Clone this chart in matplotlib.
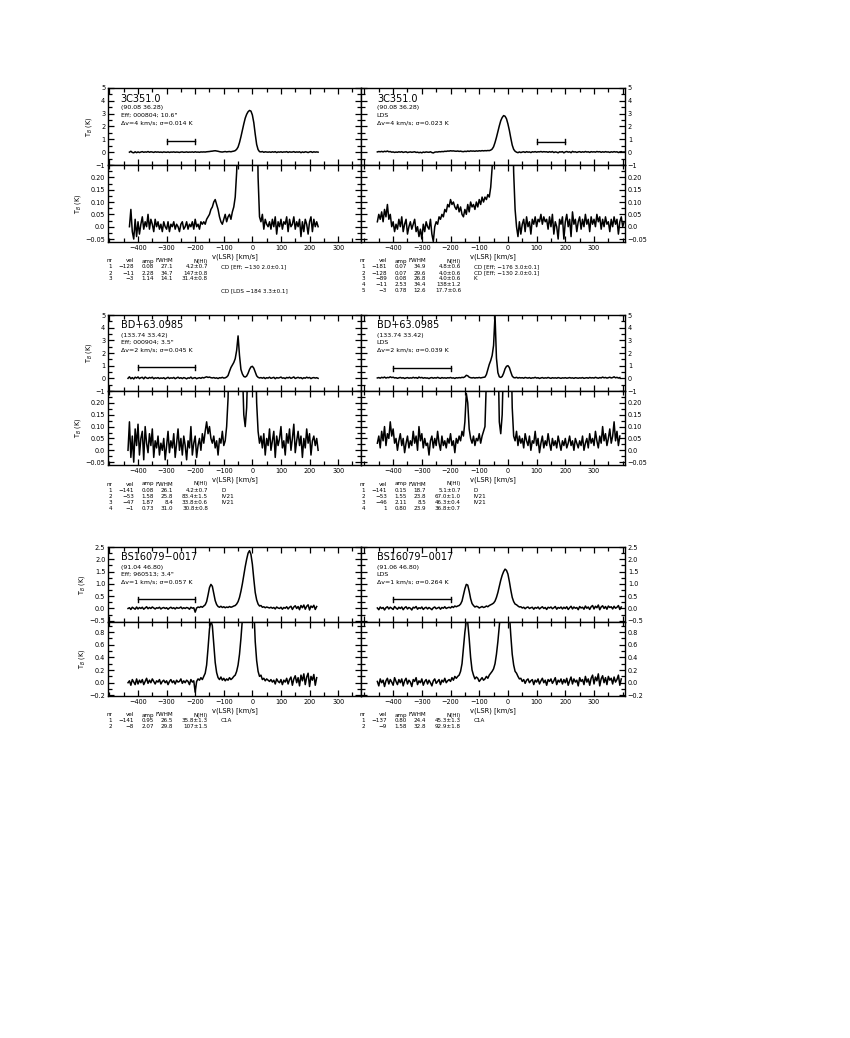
import numpy as np
import matplotlib
matplotlib.use('Agg')
import matplotlib.pyplot as plt
from matplotlib.ticker import MultipleLocator, FixedLocator, FixedFormatter

# ---------------- data ----------------
# spectra: first velocity (km/s), channel step, brightness temperatures (K)
start_a, step_a = -430, 5
spec_a = [
    0.00, 0.07, -0.02, -0.05, 0.03, -0.04, 0.02, -0.03, 0.01, 0.04,
    -0.01, 0.02, 0.00, 0.05, -0.01, 0.03, 0.01, -0.02, 0.03, 0.00,
    0.02, -0.01, 0.01, -0.02, 0.02, 0.00, -0.01, 0.02, -0.02, 0.01,
    0.00, 0.02, -0.01, 0.01, 0.00, -0.02, 0.01, 0.02, -0.01, 0.00,
    0.02, -0.01, 0.01, 0.00, 0.02, -0.01, 0.03, 0.00, 0.01, -0.01,
    0.02, 0.01, 0.02, 0.01, 0.03, 0.04, 0.05, 0.07, 0.08, 0.10,
    0.11, 0.09, 0.07, 0.04, 0.02, 0.01, 0.03, 0.05, 0.02, 0.04,
    0.05, 0.03, 0.06, 0.08, 0.12, 0.22, 0.40, 0.75, 1.20, 1.70,
    2.20, 2.65, 2.95, 3.15, 3.25, 3.20, 2.90, 2.30, 1.40, 0.60,
    0.20, 0.04, 0.02, 0.05, -0.01, 0.03, 0.01, 0.00, 0.02, -0.01,
    0.03, 0.00, 0.04, -0.03, 0.02, 0.00, 0.03, -0.01, 0.02, 0.01,
    0.04, -0.02, 0.03, 0.00, 0.01, 0.04, -0.01, 0.02, 0.00, 0.03,
    -0.04, 0.02, -0.02, 0.03, 0.01, -0.03, 0.02, 0.04, -0.02, 0.03,
    0.00, 0.02, 0.00,
]

start_b, step_b = -455, 5
spec_b = [
    0.02, 0.05, 0.03, 0.06, 0.02, 0.07, 0.04, 0.09, 0.03, 0.05,
    0.00, 0.02, -0.02, 0.01, -0.01, 0.03, 0.00, 0.04, -0.02, 0.01,
    0.03, -0.03, 0.00, 0.02, -0.01, 0.01, 0.03, -0.02, 0.00, -0.04,
    -0.01, -0.05, 0.01, -0.02, 0.02, 0.00, -0.01, 0.03, -0.03, -0.06,
    0.00, 0.02, 0.01, 0.04, 0.03, 0.05, 0.04, 0.07, 0.06, 0.09,
    0.08, 0.11, 0.09, 0.10, 0.08, 0.07, 0.09, 0.06, 0.08, 0.05,
    0.04, 0.07, 0.05, 0.09, 0.06, 0.10, 0.08, 0.09, 0.07, 0.10,
    0.08, 0.11, 0.09, 0.12, 0.10, 0.12, 0.11, 0.13, 0.12, 0.16,
    0.24, 0.42, 0.75, 1.15, 1.60, 2.05, 2.45, 2.70, 2.85, 2.80,
    2.60, 2.20, 1.70, 1.10, 0.55, 0.22, 0.07, 0.00, -0.04, 0.02,
    -0.03, 0.01, 0.03, -0.02, 0.04, 0.00, 0.02, -0.03, 0.03, 0.01,
    0.04, 0.00, 0.03, 0.02, 0.05, 0.01, 0.04, 0.02, 0.03, -0.01,
    0.04, 0.00, 0.05, -0.03, 0.02, 0.00, -0.05, 0.03, 0.01, 0.04,
    -0.05, 0.02, 0.05, 0.00, 0.03, -0.04, 0.06, 0.01, 0.03, -0.02,
    0.02, 0.04, -0.01, 0.03, 0.00, 0.05, 0.01, 0.03, -0.02, 0.04,
    0.01, 0.03, 0.00, 0.05, 0.02, 0.04, -0.01, 0.03, 0.00, 0.04,
    0.01, 0.02, -0.02, 0.03, 0.00, 0.04, 0.01, 0.03, -0.03, 0.02,
    0.04, 0.00, 0.02,
]

start_c, step_c = -435, 5
spec_c = [
    0.00, 0.12, -0.03, 0.06, -0.05, 0.09, 0.02, 0.11, -0.02, 0.05,
    0.08, -0.04, 0.10, 0.03, -0.01, 0.07, 0.02, 0.09, -0.03, 0.04,
    0.01, 0.06, -0.02, 0.03, 0.00, 0.05, -0.04, 0.02, 0.08, -0.01,
    0.04, 0.01, 0.07, -0.03, 0.03, 0.09, 0.00, 0.05, -0.02, 0.06,
    0.02, -0.04, 0.04, 0.01, 0.10, -0.02, 0.03, 0.06, -0.03, 0.02,
    0.05, 0.00, 0.07, 0.03, 0.08, 0.12, 0.07, 0.10, 0.05, 0.03,
    0.06, 0.01, 0.04, -0.02, 0.05, 0.03, 0.08, 0.02, 0.04, 0.10,
    0.22, 0.55, 0.85, 1.05, 1.25, 1.55, 2.20, 3.35, 1.80, 0.70,
    0.35, 0.15, 0.10, 0.18, 0.40, 0.70, 0.90, 0.95, 0.80, 0.50,
    0.20, 0.08, 0.03, 0.06, 0.01, 0.07, -0.02, 0.05, 0.02, 0.09,
    0.00, 0.04, 0.08, -0.03, 0.06, 0.02, 0.05, 0.10, 0.01, 0.04,
    -0.02, 0.07, 0.03, 0.09, 0.00, 0.05, 0.11, -0.01, 0.04, 0.08,
    0.02, 0.06, -0.03, 0.05, 0.01, 0.09, 0.03, 0.07, -0.02, 0.04,
    0.06, 0.02, 0.05, 0.00,
]

start_d, step_d = -455, 5
spec_d = [
    0.03, 0.06, 0.01, 0.08, 0.04, 0.10, 0.02, 0.07, 0.05, 0.12,
    0.06, 0.09, 0.03, 0.05, 0.00, 0.04, 0.07, 0.02, 0.05, -0.01,
    0.03, 0.06, 0.01, 0.04, 0.02, 0.08, 0.03, 0.06, 0.00, 0.10,
    0.04, 0.07, 0.01, 0.05, 0.02, 0.03, -0.02, 0.04, 0.06, 0.01,
    0.05, 0.02, 0.08, 0.03, 0.00, 0.06, 0.02, 0.04, 0.01, 0.05,
    0.03, 0.07, 0.02, 0.04, -0.01, 0.05, 0.03, 0.06, 0.04, 0.08,
    0.06, 0.12, 0.24, 0.20, 0.09, 0.05, 0.03, 0.06, 0.02, 0.05,
    0.04, 0.07, 0.03, 0.06, 0.08, 0.10, 0.30, 0.70, 1.10, 1.40,
    1.80, 2.60, 5.00, 1.60, 0.45, 0.12, 0.07, 0.15, 0.40, 0.75,
    0.95, 1.00, 0.85, 0.50, 0.18, 0.06, 0.04, 0.08, 0.02, 0.06,
    0.03, 0.05, 0.01, 0.07, 0.04, 0.02, 0.06, 0.00, 0.04, 0.03,
    0.08, 0.02, 0.05, -0.01, 0.03, 0.06, 0.01, 0.04, 0.02, 0.07,
    0.03, 0.00, 0.05, 0.02, 0.04, 0.01, 0.06, 0.03, 0.00, 0.04,
    0.02, 0.05, 0.01, 0.03, 0.06, 0.02, 0.04, 0.00, 0.05, 0.03,
    0.01, 0.04, 0.02, 0.06, 0.00, 0.03, 0.05, 0.01, 0.07, 0.03,
    0.05, 0.02, 0.08, 0.04, 0.01, 0.06, 0.03, 0.10, 0.04, 0.07,
    0.02, 0.05, 0.09, 0.03, 0.06, 0.12, 0.04, 0.08, 0.02, 0.06,
]

start_e, step_e = -435, 5
spec_e = [
    0.00, 0.03, -0.04, 0.05, 0.01, -0.03, 0.06, -0.02, 0.04, 0.00,
    0.05, -0.03, 0.02, 0.07, -0.01, 0.04, 0.00, 0.06, 0.02, -0.02,
    0.03, 0.01, 0.05, -0.02, 0.02, 0.04, 0.00, 0.03, -0.03, 0.02,
    0.05, 0.00, 0.03, -0.02, 0.04, 0.01, 0.02, 0.06, -0.01, 0.03,
    0.00, 0.04, 0.02, -0.03, 0.05, 0.01, 0.03, -0.15, 0.02, 0.06,
    0.04, 0.08, 0.05, 0.10, 0.15, 0.28, 0.55, 0.85, 0.98, 0.90,
    0.60, 0.32, 0.16, 0.08, 0.05, 0.09, 0.04, 0.07, 0.03, 0.06,
    0.04, 0.08, 0.05, 0.07, 0.10, 0.12, 0.18, 0.28, 0.45, 0.70,
    1.00, 1.35, 1.70, 2.00, 2.25, 2.35, 2.20, 1.80, 1.20, 0.65,
    0.35, 0.18, 0.10, 0.12, 0.05, 0.07, 0.03, 0.06, 0.04, 0.02,
    0.05, 0.01, 0.04, -0.02, 0.06, 0.02, 0.00, 0.05, -0.03, 0.04,
    0.01, 0.07, -0.02, 0.05, 0.09, -0.04, 0.06, 0.11, 0.00, 0.08,
    -0.05, 0.12, 0.03, 0.14, -0.03, 0.09, 0.15, -0.06, 0.10, 0.04,
    0.13, -0.04, 0.08,
]

start_f, step_f = -455, 5
spec_f = [
    0.02, -0.05, 0.06, 0.00, 0.04, -0.06, 0.03, 0.07, -0.02, 0.05,
    0.01, -0.04, 0.08, 0.02, -0.03, 0.05, 0.00, 0.06, -0.05, 0.03,
    0.07, -0.02, 0.04, 0.01, -0.06, 0.05, 0.02, 0.08, -0.03, 0.03,
    0.00, 0.06, -0.04, 0.02, 0.05, -0.02, 0.04, 0.00, -0.05, 0.03,
    0.06, -0.01, 0.02, 0.05, -0.03, 0.04, 0.01, 0.07, 0.00, 0.03,
    0.05, 0.02, 0.08, 0.04, 0.10, 0.07, 0.10, 0.12, 0.18, 0.30,
    0.55, 0.80, 0.98, 0.95, 0.70, 0.40, 0.20, 0.12, 0.06, 0.09,
    0.07, 0.02, 0.05, 0.08, 0.04, 0.06, 0.10, 0.07, 0.12, 0.15,
    0.18, 0.22, 0.30, 0.45, 0.65, 0.90, 1.15, 1.35, 1.50, 1.60,
    1.55, 1.40, 1.10, 0.75, 0.45, 0.28, 0.18, 0.15, 0.10, 0.06,
    0.07, 0.02, 0.05, -0.01, 0.04, 0.06, 0.00, 0.03, 0.05, -0.03,
    0.04, 0.01, 0.06, -0.02, 0.03, 0.07, 0.00, 0.04, -0.04, 0.05,
    0.02, 0.06, -0.01, 0.03, 0.08, -0.03, 0.04, 0.01, 0.06, -0.02,
    0.05, 0.00, 0.07, -0.04, 0.03, 0.09, -0.02, 0.06, 0.01, 0.04,
    -0.05, 0.08, 0.02, 0.05, -0.03, 0.10, 0.01, 0.06, -0.04, 0.07,
    0.12, -0.02, 0.09, 0.03, 0.14, -0.05, 0.06, 0.11, 0.00, 0.08,
    -0.03, 0.10, 0.04, 0.07, -0.02, 0.09, 0.01, 0.05, 0.12, -0.04,
    0.06,
]

# header text of each panel
info_a = ["3C351.0", "(90.08 36.28)", "Eff; 000804; 10.6\"", "Δv=4 km/s; σ=0.014 K"]
info_b = ["3C351.0", "(90.08 36.28)", "LDS", "Δv=4 km/s; σ=0.023 K"]
info_c = ["BD+63.0985", "(133.74 33.42)", "Eff; 000904; 3.5\"", "Δv=2 km/s; σ=0.045 K"]
info_d = ["BD+63.0985", "(133.74 33.42)", "LDS", "Δv=2 km/s; σ=0.039 K"]
info_e = ["BS16079−0017", "(91.04 46.80)", "Eff; 960513; 3.4\"", "Δv=1 km/s; σ=0.057 K"]
info_f = ["BS16079−0017", "(91.06 46.80)", "LDS", "Δv=1 km/s; σ=0.264 K"]

# velocity range bars (v1, v2, T)
bar_a = (-300, -200, 0.85)
bar_b = (100, 200, 0.8)
bar_c = (-400, -200, 0.87)
bar_d = (-400, -200, 0.8)
bar_e = (-400, -200, 0.37)
bar_f = (-400, -200, 0.37)

# gaussian component tables
table_head = ["nr", "vel", "amp", "FWHM", "N(HI)"]
comp_a = [("1", "−128", "0.08", "27.1", "4.2±0.7", "CD [Eff; −130 2.0±0.1]"),
          ("2", "−11", "2.28", "34.7", "147±0.8", ""),
          ("3", "−3", "1.14", "14.1", "31.4±0.8", ""),
          ("", "", "", "", "", ""),
          ("", "", "", "", "", "CD [LDS −184 3.3±0.1]")]
comp_b = [("1", "−181", "0.07", "34.9", "4.8±0.6", "CD [Eff; −176 3.0±0.1]"),
          ("2", "−128", "0.07", "29.6", "4.0±0.6", "CD [Eff; −130 2.0±0.1]"),
          ("3", "−89", "0.08", "26.8", "4.0±0.6", "K"),
          ("4", "−11", "2.53", "34.4", "138±1.2", ""),
          ("5", "−3", "0.78", "12.6", "17.7±0.6", "")]
comp_c = [("1", "−141", "0.08", "26.1", "4.2±0.7", "D"),
          ("2", "−53", "1.58", "25.8", "83.4±1.5", "IV21"),
          ("3", "−47", "1.87", "8.4", "33.8±0.6", "IV21"),
          ("4", "−1", "0.73", "31.0", "30.8±0.8", "")]
comp_d = [("1", "−141", "0.15", "18.7", "5.1±0.7", "D"),
          ("2", "−53", "1.55", "23.8", "67.0±1.0", "IV21"),
          ("3", "−46", "2.11", "8.5", "46.3±0.4", "IV21"),
          ("4", "1", "0.80", "23.9", "36.8±0.7", "")]
comp_e = [("1", "−141", "0.95", "26.5", "35.8±1.3", "C1A"),
          ("2", "−8", "2.07", "29.8", "107±1.5", "")]
comp_f = [("1", "−137", "0.80", "24.4", "45.3±1.3", "C1A"),
          ("2", "−9", "1.58", "32.8", "92.9±1.8", "")]

# ---------------- layout (pixels of the 850x1038 page) ----------------
W, H = 850, 1038
rows_px = [(88, 165, 242), (315, 391, 465), (547, 622, 696)]
cols_px = [(108, 361), (361, 625)]
xlims = [(-505, 380), (-512, 408)]

plt.rcParams['font.family'] = ['DejaVu Sans']
fig = plt.figure(figsize=(8.5, 10.38), dpi=100)
fig.patch.set_facecolor('white')


def rect(x0, y0, x1, y1):
    return [x0 / W, 1 - y1 / H, (x1 - x0) / W, (y1 - y0) / H]


def style_axis(ax, right):
    for s in ax.spines.values():
        s.set_linewidth(1.0)
    ax.tick_params(which='both', direction='in', top=True, bottom=True,
                   left=True, right=True, width=0.9, labelsize=4.7, pad=2)
    ax.tick_params(which='major', length=4)
    ax.tick_params(which='minor', length=3)
    if right:
        ax.tick_params(labelleft=False, labelright=True)


def set_yticks(ax, vals, labels, minor):
    ax.yaxis.set_major_locator(FixedLocator(vals))
    ax.yaxis.set_major_formatter(FixedFormatter(labels))
    ax.yaxis.set_minor_locator(MultipleLocator(minor))


def draw_panel(row, col, start, step, spec, info, bar, comps):
    top, mid, bot = rows_px[row]
    x0, x1 = cols_px[col]
    right = col == 1
    v = start + step * np.arange(len(spec))
    T = np.array(spec)

    ax_up = fig.add_axes(rect(x0, top, x1, mid))
    ax_lo = fig.add_axes(rect(x0, mid, x1, bot))

    for ax in (ax_up, ax_lo):
        ax.plot(v, T, color='black', lw=1.1)
        ax.set_xlim(*xlims[col])
        ax.xaxis.set_major_locator(MultipleLocator(100))
        ax.xaxis.set_minor_locator(MultipleLocator(50))
        style_axis(ax, right)
    ax_up.tick_params(labelbottom=False)

    if row < 2:
        ax_up.set_ylim(-1, 5)
        set_yticks(ax_up, [-1, 0, 1, 2, 3, 4, 5],
                   ['−1', '0', '1', '2', '3', '4', '5'], 0.5)
        ax_lo.set_ylim(-0.062, 0.25)
        set_yticks(ax_lo, [-0.05, 0, 0.05, 0.10, 0.15, 0.20],
                   ['−0.05', '0.0', '0.05', '0.10', '0.15', '0.20'], 0.025)
        hcap = 0.2
    else:
        ax_up.set_ylim(-0.55, 2.5)
        set_yticks(ax_up, [-0.5, 0, 0.5, 1, 1.5, 2, 2.5],
                   ['−0.5', '0.0', '0.5', '1.0', '1.5', '2.0', '2.5'], 0.25)
        ax_lo.set_ylim(-0.21, 0.96)
        set_yticks(ax_lo, [-0.2, 0, 0.2, 0.4, 0.6, 0.8],
                   ['−0.2', '0.0', '0.2', '0.4', '0.6', '0.8'], 0.1)
        hcap = 0.1

    xt = [-400, -300, -200, -100, 0, 100, 200, 300]
    ax_lo.xaxis.set_major_locator(FixedLocator(xt))
    ax_lo.xaxis.set_major_formatter(FixedFormatter(
        [str(t).replace('-', '−') for t in xt]))
    ax_lo.set_xlabel('v(LSR) [km/s]', fontsize=4.9, labelpad=1.5)

    if not right:
        ax_up.set_ylabel('T$_B$ (K)', fontsize=4.7, labelpad=1.5)
        ax_lo.set_ylabel('T$_B$ (K)', fontsize=4.7, labelpad=1.5)

    # velocity range bar
    b1, b2, by = bar
    ax_up.plot([b1, b2], [by, by], color='black', lw=1.0)
    ax_up.plot([b1, b1], [by - hcap, by + hcap], color='black', lw=1.0)
    ax_up.plot([b2, b2], [by - hcap, by + hcap], color='black', lw=1.0)

    # header text
    hpx = mid - top
    xoff = 0.05 if not right else 0.06
    ax_up.text(xoff, 1 - 10.5 / hpx, info[0], transform=ax_up.transAxes,
               fontsize=7, va='center', ha='left')
    for k, dy in enumerate([20, 27.5, 35]):
        ax_up.text(xoff, 1 - dy / hpx, info[k + 1], transform=ax_up.transAxes,
                   fontsize=4.5, va='center', ha='left')

    # component table under the panel
    ty = bot + 19
    cx = [x0 + 4, x0 + 26, x0 + 46, x0 + 65, x0 + 100]
    for j, h in enumerate(table_head):
        fig.text(cx[j] / W, 1 - ty / H, h, fontsize=4.1, ha='right', va='center')
    for i, c in enumerate(comps):
        yy = ty + 6 * (i + 1)
        for j in range(5):
            fig.text(cx[j] / W, 1 - yy / H, c[j], fontsize=4.1, ha='right', va='center')
        fig.text((x0 + 113) / W, 1 - yy / H, c[5], fontsize=4.1, ha='left', va='center')


draw_panel(0, 0, start_a, step_a, spec_a, info_a, bar_a, comp_a)
draw_panel(0, 1, start_b, step_b, spec_b, info_b, bar_b, comp_b)
draw_panel(1, 0, start_c, step_c, spec_c, info_c, bar_c, comp_c)
draw_panel(1, 1, start_d, step_d, spec_d, info_d, bar_d, comp_d)
draw_panel(2, 0, start_e, step_e, spec_e, info_e, bar_e, comp_e)
draw_panel(2, 1, start_f, step_f, spec_f, info_f, bar_f, comp_f)

fig.savefig('out.png', dpi=100)
